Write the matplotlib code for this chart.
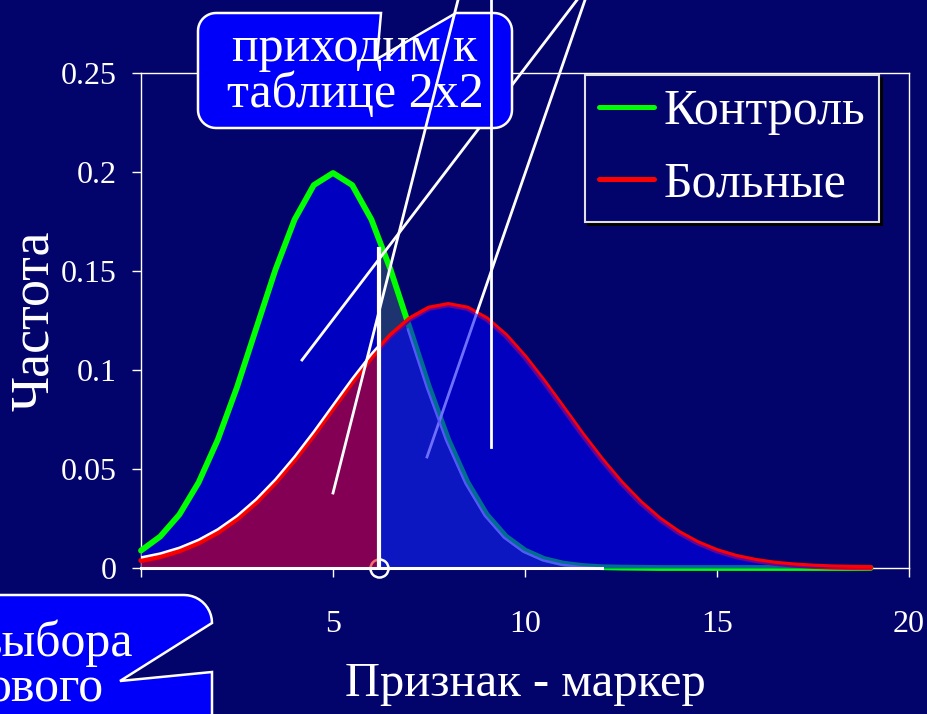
import numpy as np
import matplotlib
matplotlib.use("Agg")
import matplotlib.pyplot as plt
from matplotlib.lines import Line2D
from matplotlib.patches import Polygon
from matplotlib.transforms import offset_copy

plt.rcParams['font.family'] = ['Liberation Serif', 'DejaVu Serif']

# distributions of the marker in two groups
x = np.arange(0, 19.5, 0.5)
control = [0.0088, 0.0159, 0.0270, 0.0432, 0.0648, 0.0913, 0.1210, 0.1506,
           0.1760, 0.1934, 0.1995, 0.1934, 0.1760, 0.1506, 0.1210, 0.0913,
           0.0648, 0.0432, 0.0270, 0.0159, 0.0088, 0.0045, 0.0022, 0.0010,
           0.0004, 0.0002, 0.0001, 0, 0, 0, 0, 0, 0, 0, 0, 0, 0, 0, 0]
patients = [0.0038, 0.0058, 0.0087, 0.0127, 0.0180, 0.0248, 0.0332, 0.0432,
            0.0547, 0.0673, 0.0807, 0.0940, 0.1065, 0.1174, 0.1258, 0.1312,
            0.1330, 0.1312, 0.1258, 0.1174, 0.1065, 0.0940, 0.0807, 0.0673,
            0.0547, 0.0432, 0.0332, 0.0248, 0.0180, 0.0127, 0.0087, 0.0058,
            0.0038, 0.0024, 0.0015, 0.0009, 0.0005, 0.0003, 0.0002]
labels = ['Контроль', 'Больные']
threshold = 6.2
overlay_end = 12

xticks = [0, 5, 10, 15, 20]
yticks = [0, 0.05, 0.1, 0.15, 0.2, 0.25]
ytick_labels = ['0', '0.05', '0.1', '0.15', '0.2', '0.25']

control = np.array(control)
patients = np.array(patients)

BG = '#03036C'
W, H = 928, 714


def split(xs, ys, t):
    yt = np.interp(t, xs, ys)
    m = xs < t
    return np.r_[xs[m], t], np.r_[ys[m], yt], np.r_[t, xs[~m]], np.r_[yt, ys[~m]]


def fig_pts(pts):
    # pixel coords (y down) -> figure fraction
    return [(px / W, 1 - py / H) for px, py in pts]


def arc(cx, cy, r, a0, a1, n=12):
    t = np.radians(np.linspace(a0, a1, n))
    return list(zip(cx + r * np.cos(t), cy + r * np.sin(t)))


fig = plt.figure(figsize=(9.28, 7.14), dpi=100, facecolor=BG)
ax = fig.add_axes([141 / W, 1 - 568 / H, 768 / W, 495 / H])
ax.set_facecolor(BG)
ax.set_xlim(0, 20)
ax.set_ylim(0, 0.25)
ax.set_axisbelow(True)
for s in ax.spines.values():
    s.set_color('white')
    s.set_linewidth(1)
    s.set_zorder(0.5)

xl, gl, xr, gr = split(x, control, threshold)
_, rl, _, rr = split(x, patients, threshold)

# area under control curve left of the cut-off
ax.fill_between(xl, 0, gl, color='#0000C0', lw=0, zorder=1)
# control area right of the cut-off
mo = xr <= overlay_end
ax.fill_between(xr[mo], 0, gr[mo], color='#1E3470', lw=0, zorder=1.2)

ax.plot(x, control, color='#00FF00', lw=4.2, zorder=2, solid_capstyle='round',
        clip_on=False)
ax.plot(x, patients, color='#FF0000', lw=3.8, zorder=2.1, solid_capstyle='round',
        clip_on=False)

me = (x >= 7) & (x <= overlay_end)
ax.plot(x[me], control[me], color='#C8C8FF', lw=1.6, zorder=2.5,
        transform=offset_copy(ax.transData, fig=fig, x=-2, y=-1, units='dots'))

# pointer line passing under the patients area
ax.add_line(Line2D([585 / W, 427 / W], [1, 1 - 457 / H], color='white', lw=2,
                   transform=fig.transFigure, clip_on=False, zorder=2.2))

# patients area right of the cut-off
ax.fill_between(xr, 0, rr, color='#0000FF', alpha=0.57, lw=0, zorder=3)

ax.plot([threshold], [0], marker='o', ms=13, mfc='none', mec='white', mew=1.8,
        zorder=3.2, clip_on=False)

# patients area left of the cut-off
ax.fill_between(xl, 0, rl, color='#EB0000', alpha=0.56, lw=0, zorder=3.4)
ax.plot(xl, rl, color='white', lw=1.8, zorder=3.6,
        transform=offset_copy(ax.transData, fig=fig, x=0, y=3, units='dots'))
ax.plot([0, overlay_end], [0, 0], color='white', lw=2.2, zorder=3.5, clip_on=False)
ax.plot([threshold, threshold], [0, 0.161], color='white', lw=3, zorder=3.7)

ax.set_xticks(xticks)
ax.set_yticks(yticks)
ax.set_yticklabels(ytick_labels)
ax.tick_params(colors='white', direction='out', length=6.5, width=1, labelsize=23)
ax.tick_params(axis='x', pad=24)
ax.tick_params(axis='y', pad=11)

ax.set_xlabel('Признак - маркер', color='white', fontsize=35)
ax.xaxis.set_label_coords(0.5, -0.19)
ax.set_ylabel('Частота', color='white', fontsize=39)
ax.yaxis.set_label_coords(-0.106, 0.5)

handles = [Line2D([], [], color='#00FF00', lw=3.6, solid_capstyle='round'),
           Line2D([], [], color='#FF0000', lw=3.6, solid_capstyle='round')]
leg = ax.legend(handles, labels, loc='upper right', bbox_to_anchor=(0.961, 0.996),
                borderaxespad=0, fontsize=36, handlelength=1.1, handletextpad=0.18,
                labelspacing=0.52, borderpad=0.28, fancybox=False, framealpha=1,
                facecolor=BG, edgecolor='#E0E0E0',
                shadow={'color': 'black', 'alpha': 1})
leg.get_frame().set_linewidth(1.5)
leg.set_zorder(8)
for t in leg.get_texts():
    t.set_color('white')

# callout boxes
box1 = ([(216, 13), (381, 13), (377, 59), (456, 13)]
        + arc(494, 31, 18, 270, 360) + arc(494, 110, 18, 0, 90)
        + arc(216, 110, 18, 90, 180) + arc(216, 31, 18, 180, 270))
box2 = ([(-20, 595)] + arc(184, 623, 28, 270, 360)
        + [(120, 681), (212, 672), (212, 740), (-20, 740)])
for pts in (box1, box2):
    ax.add_patch(Polygon(fig_pts(pts), closed=True, facecolor='#0000FA',
                         edgecolor='white', lw=1.8, transform=fig.transFigure,
                         clip_on=False, zorder=5))

txt = dict(color='white', fontsize=36, transform=fig.transFigure, zorder=5.5,
           clip_on=False, va='baseline')
ax.text(355 / W, 1 - 61 / H, 'приходим к', ha='center', **txt)
ax.text(355 / W, 1 - 107 / H, 'таблице 2x2', ha='center', **txt)
ax.text(133 / W, 1 - 656 / H, 'выбора', ha='right', **txt)
ax.text(103 / W, 1 - 702 / H, 'ового', ha='right', **txt)

# pointer lines
pointers = [((577, 0), (302, 360), 4), ((458, 0), (333, 493), 6),
            ((491, 0), (491, 447), 6)]
for p0, p1, z in pointers:
    (ax0, ay0), (ax1, ay1) = fig_pts([p0, p1])
    ax.add_line(Line2D([ax0, ax1], [ay0, ay1], color='white', lw=2,
                       transform=fig.transFigure, clip_on=False, zorder=z))

fig.savefig('out.png', dpi=100, facecolor=BG)
